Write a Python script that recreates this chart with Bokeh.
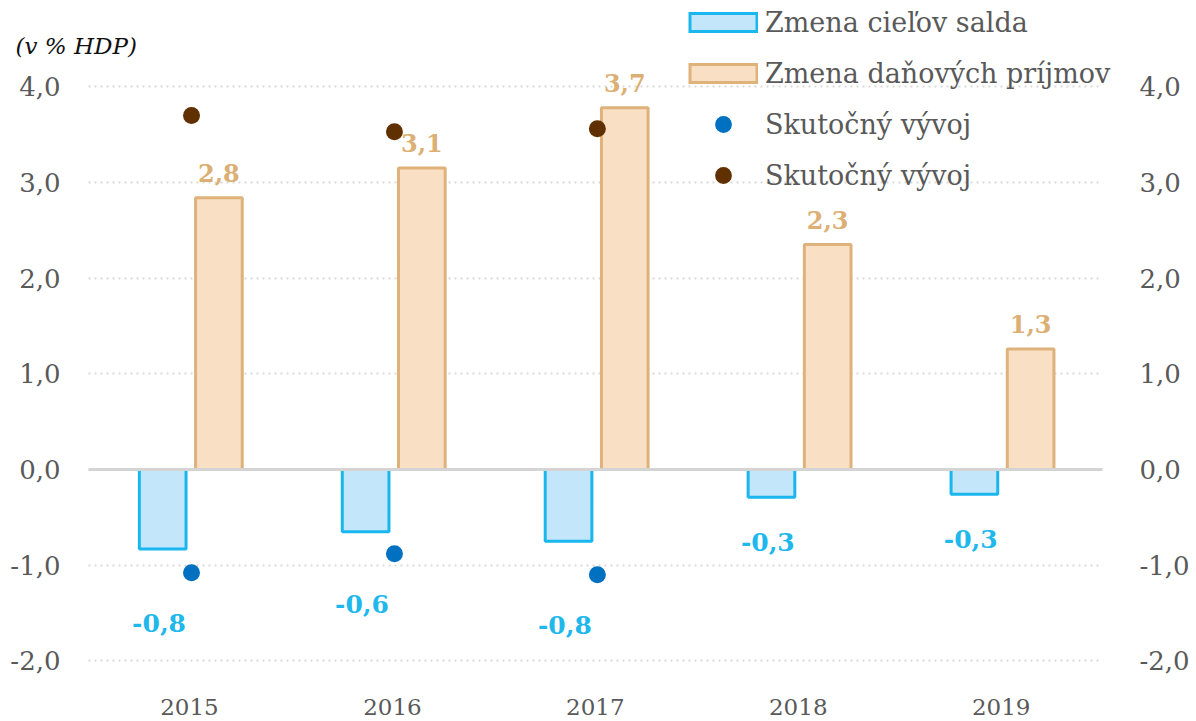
from bokeh.plotting import figure
from bokeh.models import (Range1d, LinearAxis, FixedTicker, CustomJSTickFormatter, Grid,
                          Label, Legend, LegendItem, ColumnDataSource)
from bokeh.embed import file_html
from bokeh.resources import INLINE
from bokeh.core.properties import value

# ---- data ----
years = [2015, 2016, 2017, 2018, 2019]
zmena_cielov = [-0.83, -0.65, -0.75, -0.29, -0.26]
zmena_cielov_labels = ["-0,8", "-0,6", "-0,8", "-0,3", "-0,3"]
zmena_prijmov = [2.84, 3.15, 3.78, 2.35, 1.26]
zmena_prijmov_labels = ["2,8", "3,1", "3,7", "2,3", "1,3"]
skut_years = [2015, 2016, 2017]
skut_saldo = [-1.08, -0.88, -1.10]
skut_prijmy = [3.70, 3.53, 3.56]
y_ticks = [-2, -1, 0, 1, 2, 3, 4]

FONT = "DejaVu Serif"
GRAY = "#595959"
BLUE_LINE = "#1ab6ee"
BLUE_FILL = "#c4e6fb"
ORANGE_LINE = "#deb27a"
ORANGE_FILL = "#f9dfc4"

x_lo, x_hi = years[0] - 0.5, years[-1] + 0.5
p = figure(x_range=Range1d(x_lo - 0.382, x_hi + 0.083), y_range=Range1d(-2.205, 4.859),
           width=1192, height=720, output_backend="svg", toolbar_location=None,
           min_border_left=10, min_border_right=66, min_border_top=4, min_border_bottom=40)
p.outline_line_color = None
p.background_fill_color = "white"

# grid
p.xgrid.grid_line_color = None
p.ygrid.ticker = FixedTicker(ticks=y_ticks)
p.ygrid.grid_line_color = "#d9d9d9"
p.ygrid.grid_line_width = 2
p.ygrid.grid_line_dash = "2 4"
zero_grid = Grid(dimension=1, ticker=FixedTicker(ticks=[0]), grid_line_color="#d4d4d4",
                 grid_line_width=3, level="annotation")
try:
    p.ygrid.cross_bounds = (x_lo, x_hi)
    zero_grid.cross_bounds = (x_lo, x_hi)
    p.add_layout(zero_grid)
except AttributeError:
    p.ygrid.grid_line_color = None
    p.segment(x0=[x_lo] * len(y_ticks), x1=[x_hi] * len(y_ticks), y0=y_ticks, y1=y_ticks,
              line_color="#d9d9d9", line_width=2, line_dash="2 4", level="underlay")
    p.segment(x0=[x_lo], x1=[x_hi], y0=[0], y1=[0], line_color="#d4d4d4", line_width=3,
              level="annotation")

fmt = CustomJSTickFormatter(code="return tick.toFixed(1).replace('.', ',');")

def style_y(ax, standoff):
    ax.ticker = FixedTicker(ticks=y_ticks)
    ax.formatter = fmt
    ax.axis_line_color = None
    ax.major_tick_line_color = None
    ax.minor_tick_line_color = None
    ax.major_label_text_font = FONT
    ax.major_label_text_font_size = "26px"
    ax.major_label_text_color = GRAY
    ax.major_label_standoff = standoff

style_y(p.yaxis[0], -56)
right = LinearAxis()
style_y(right, 14)
p.add_layout(right, "right")

xa = p.xaxis[0]
xa.ticker = FixedTicker(ticks=years)
xa.formatter = CustomJSTickFormatter(code="return tick.toFixed(0);")
xa.axis_line_color = None
xa.major_tick_line_color = None
xa.minor_tick_line_color = None
xa.major_label_text_font = FONT
xa.major_label_text_font_size = "23px"
xa.major_label_text_color = GRAY
xa.major_label_standoff = 12

# bars
src = ColumnDataSource(dict(
    xb=[y - 0.132 for y in years], xo=[y + 0.145 for y in years],
    cielov=zmena_cielov, prijmov=zmena_prijmov))
r_blue = p.vbar(x="xb", top="cielov", bottom=0, width=0.23, source=src,
                fill_color=BLUE_FILL, line_color=BLUE_LINE, line_width=3)
r_orange = p.vbar(x="xo", top="prijmov", bottom=0, width=0.23, source=src,
                  fill_color=ORANGE_FILL, line_color=ORANGE_LINE, line_width=3)

# dots
dsrc = ColumnDataSource(dict(x=[y + 0.01 for y in skut_years], saldo=skut_saldo, prijmy=skut_prijmy))
r_dot_b = p.scatter(x="x", y="saldo", source=dsrc, size=17, fill_color="#0070c0", line_color=None)
r_dot_o = p.scatter(x="x", y="prijmy", source=dsrc, size=17, fill_color="#603000", line_color=None)

# data labels
ppu = 95.7  # pixels per unit, for label offsets
dot_map = dict(zip(skut_years, skut_saldo))
blue_label_y = [(dot_map[yr] - 50 / ppu) if yr in dot_map else (v - 45 / ppu)
                for yr, v in zip(years, zmena_cielov)]
orange_label_y = [v + 25 / ppu for v in zmena_prijmov]
lsrc = ColumnDataSource(dict(xb=[y - 0.15 for y in years], xo=[y + 0.145 for y in years],
                             by=blue_label_y, bt=zmena_cielov_labels,
                             oy=orange_label_y, ot=zmena_prijmov_labels))
p.text(x="xb", y="by", text="bt", source=lsrc, text_font=value(FONT),
       text_font_size="25px", text_font_style="bold", text_color="#1fb8ec",
       text_align="center", text_baseline="middle")
p.text(x="xo", y="oy", text="ot", source=lsrc, text_font=value(FONT),
       text_font_size="24px", text_font_style="bold", text_color="#dcaf74",
       text_align="center", text_baseline="alphabetic")

# unit label
p.add_layout(Label(x=x_lo - 0.357, y=4.43, text="(v % HDP)", text_font=FONT,
                   text_font_style="italic", text_font_size="23px", text_color="#111111",
                   text_baseline="middle", text_align="left"))

# legend proxies (rectangle swatches drawn as thick lines; no visible data in the plot)
nan = float("nan")
lb_out = p.line(x=[nan, nan], y=[nan, nan], line_color=BLUE_LINE, line_width=21)
lb_in = p.line(x=[nan, nan], y=[nan, nan], line_color=BLUE_FILL, line_width=15,
               line_dash="0 3 64 100")
lo_out = p.line(x=[nan, nan], y=[nan, nan], line_color=ORANGE_LINE, line_width=21)
lo_in = p.line(x=[nan, nan], y=[nan, nan], line_color=ORANGE_FILL, line_width=15,
               line_dash="0 3 64 100")

legend = Legend(items=[LegendItem(label="Zmena cieľov salda", renderers=[lb_out, lb_in]),
                       LegendItem(label="Zmena daňových príjmov", renderers=[lo_out, lo_in]),
                       LegendItem(label="Skutočný vývoj", renderers=[r_dot_b]),
                       LegendItem(label="Skutočný vývoj", renderers=[r_dot_o])],
                location=(678, 484), orientation="vertical",
                label_text_font=FONT, label_text_font_size="27px", label_text_color=GRAY,
                glyph_width=70, glyph_height=42, label_standoff=7, spacing=9,
                padding=0, margin=0, border_line_alpha=0, background_fill_alpha=0)
p.add_layout(legend, "center")

open("out.html", "w").write(file_html(p, INLINE))
